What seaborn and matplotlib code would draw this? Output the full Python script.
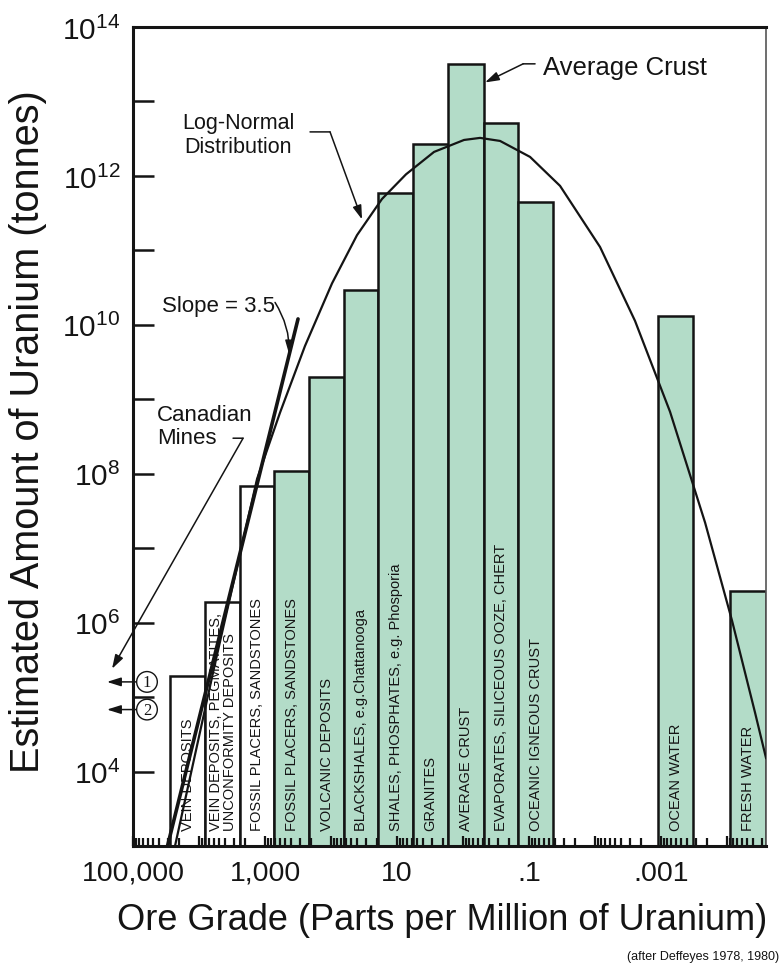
import matplotlib
matplotlib.use("Agg")
import matplotlib.pyplot as plt
import matplotlib.transforms as mtransforms
from matplotlib.ticker import FixedLocator, FixedFormatter, LogLocator, NullFormatter
import numpy as np
import seaborn as sns

# ---------------------------------------------------------------------------
# Uranium resources by deposit class (after Deffeyes 1978, 1980)
# each class covers an ore-grade range (ppm U, high edge -> low edge)
# ---------------------------------------------------------------------------
deposit_names = [
    "VEIN DEPOSITS",
    "VEIN DEPOSITS, PEGMATITES,\nUNCONFORMITY DEPOSITS",
    "FOSSIL PLACERS, SANDSTONES",
    "FOSSIL PLACERS, SANDSTONES",
    "VOLCANIC DEPOSITS",
    "BLACKSHALES, e.g.Chattanooga",
    "SHALES, PHOSPHATES, e.g. Phosporia",
    "GRANITES",
    "AVERAGE CRUST",
    "EVAPORATES, SILICEOUS OOZE, CHERT",
    "OCEANIC IGNEOUS CRUST",
    "OCEAN WATER",
    "FRESH WATER",
]
grade_high = [27500, 8100, 2390, 731, 215, 63.5, 19.4, 5.73, 1.69, 0.481, 0.147, 0.00111, 9.0e-5]
grade_low = [8100, 2390, 731, 215, 63.5, 19.4, 5.73, 1.69, 0.481, 0.147, 0.0433, 0.000327, 2.56e-5]
tonnes = [1.9e5, 1.9e6, 6.9e7, 1.1e8, 2.0e9, 2.9e10, 5.9e11, 2.7e12, 3.2e13, 5.1e12, 4.5e11, 1.3e10, 2.7e6]
shaded = [False, False, False, True, True, True, True, True, True, True, True, True, True]

# log-normal distribution curve (grade ppm, tonnes)
curve_grade = [23100, 5730, 1320, 593, 248, 96.6, 40.4, 16.9, 7.31, 2.75, 0.966,
               0.552, 0.275, 0.0966, 0.0339, 8.4e-3, 2.48e-3, 7.31e-4, 2.15e-4,
               8.4e-5, 3.77e-5, 2.56e-5]
curve_tonnes = [1.0e3, 2.8e5, 8.5e7, 6.6e8, 5.2e9, 3.6e10, 1.6e11, 4.9e11, 1.05e12,
                2.1e12, 3.04e12, 3.24e12, 2.95e12, 1.8e12, 7.35e11, 1.11e11, 1.13e10,
                6.8e8, 2.2e7, 1.06e6, 6.2e4, 1.5e4]

# slope = 3.5 trend through the high-grade deposits
slope_grade = [30000, 316]
slope_tonnes = [1.0e3, 1.2e10]

# Canadian mines (1 and 2)
canada_labels = ["1", "2"]
canada_tonnes = [1.6e5, 6.8e4]

# axis ticks
y_powers = list(range(4, 15))
x_powers = list(range(-4, 6))
x_label_values = [1e5, 1e3, 1e1, 1e-1, 1e-3]
x_label_text = ["100,000", "1,000", "10", ".1", ".001"]

GREEN = "#b3dcc8"
INK = "#141414"

sns.set_theme(style="ticks")
plt.rcParams["font.family"] = ["Liberation Sans", "DejaVu Sans"]
plt.rcParams["mathtext.fontset"] = "custom"
plt.rcParams["mathtext.rm"] = "Liberation Sans"
plt.rcParams["mathtext.it"] = "Liberation Sans:italic"
plt.rcParams["mathtext.bf"] = "Liberation Sans:bold"

W, H = 781, 970
fig = plt.figure(figsize=(W / 100, H / 100), dpi=100)
ax = fig.add_axes([133 / W, 1 - 847 / H, (766 - 133) / W, (847 - 28) / H])
ax.set_xscale("log")
ax.set_yscale("log")
ax.set_axisbelow(False)

# histogram bars
for hi, lo, t, filled in zip(grade_high, grade_low, tonnes, shaded):
    ax.bar(lo, t - 1.0, width=hi - lo, bottom=1.0, align="edge",
           color=GREEN if filled else "white", edgecolor=INK,
           linewidth=1.8, zorder=1.5)

# labels written up inside each bar
label_tf = mtransforms.blended_transform_factory(ax.transData, ax.transAxes)
for name, hi, lo in zip(deposit_names, grade_high, grade_low):
    ax.text(np.sqrt(hi * lo), 0.019, name, transform=label_tf, rotation=90,
            ha="center", va="bottom", multialignment="left",
            fontsize=10.5, linespacing=1.0, color=INK, zorder=5)

# log-normal curve and slope line
sns.lineplot(x=curve_grade, y=curve_tonnes, ax=ax, sort=False, color=INK,
             linewidth=1.6, zorder=4)
sns.lineplot(x=slope_grade, y=slope_tonnes, ax=ax, sort=False, color=INK,
             linewidth=2.6, zorder=4)

ax.set_xlim(1e5, 10 ** -4.59)
ax.set_ylim(1e3, 1e14)

# axes frame
for side in ["left", "bottom", "top"]:
    ax.spines[side].set_linewidth(2.2)
    ax.spines[side].set_color(INK)
ax.spines["right"].set_linewidth(1.2)
ax.spines["right"].set_color("#555555")
ax.set_facecolor("white")

# y ticks: every decade, labelled on even powers
ax.yaxis.set_major_locator(FixedLocator([10.0 ** k for k in y_powers]))
ax.yaxis.set_major_formatter(FixedFormatter(
    [rf"$\mathregular{{10^{{{k}}}}}$" if k % 2 == 0 else "" for k in y_powers]))
ax.yaxis.set_minor_locator(FixedLocator([]))
ax.tick_params(axis="y", which="major", direction="in", length=15, width=1.8,
               pad=9, labelsize=21.5, colors=INK)

# x ticks: every decade plus log minor ticks
ax.xaxis.set_major_locator(FixedLocator([10.0 ** k for k in x_powers]))
ax.xaxis.set_major_formatter(FixedFormatter(
    [x_label_text[x_label_values.index(10.0 ** k)] if 10.0 ** k in x_label_values else ""
     for k in x_powers]))
ax.xaxis.set_minor_locator(LogLocator(base=10, subs=np.arange(2, 10), numticks=30))
ax.xaxis.set_minor_formatter(NullFormatter())
ax.tick_params(axis="x", which="major", direction="in", length=7, width=1.6,
               pad=10, labelsize=20.5, colors=INK)
ax.tick_params(axis="x", which="minor", direction="in", length=5.5, width=1.6,
               colors=INK)

# annotations
head = "-|>,head_length=0.7,head_width=0.22"
arrow = dict(arrowstyle=head, color=INK, lw=1.1, shrinkA=0, shrinkB=0)
plain = dict(arrowstyle="-", color=INK, lw=1.1, shrinkA=0, shrinkB=0)

ax.text(0.0614, 2.9e13, "Average Crust", fontsize=18.5, ha="left", va="center", color=INK)
ax.annotate("", xy=(0.123, 3.2e13), xytext=(0.081, 3.2e13), arrowprops=plain)
ax.annotate("", xy=(0.464, 1.8e13), xytext=(0.123, 3.2e13), arrowprops=arrow)

ax.text(2570, 3.6e12, "Log-Normal\nDistribution", fontsize=15.5, ha="center",
        va="center", multialignment="center", linespacing=1.15, color=INK)
ax.annotate("", xy=(103.5, 3.9e12), xytext=(208, 3.9e12), arrowprops=plain)
ax.annotate("", xy=(33.9, 2.6e11), xytext=(103.5, 3.9e12), arrowprops=arrow)

ax.text(36400, 1.8e10, "Slope = 3.5", fontsize=16, ha="left", va="center", color=INK)
ax.annotate("", xy=(430, 4.0e9), xytext=(705, 2.0e10),
            arrowprops=dict(arrow, connectionstyle="arc3,rad=-0.15"))

ax.text(43300, 4.4e8, "Canadian\nMines", fontsize=16, ha="left", va="center",
        linespacing=1.15, color=INK)
ax.annotate("", xy=(2150, 3.0e8), xytext=(3050, 3.0e8), arrowprops=plain)
ax.annotate("", xy=(208000, 2.4e5), xytext=(2150, 3.0e8), arrowprops=arrow,
            annotation_clip=False)

for lab, t in zip(canada_labels, canada_tonnes):
    ax.annotate("", xy=(248000, t), xytext=(83000, t), arrowprops=arrow,
                annotation_clip=False)
    ax.text(61400, t, lab, ha="center", va="center", fontsize=12,
            family=["Liberation Serif", "DejaVu Serif"], color=INK, zorder=6,
            bbox=dict(boxstyle="circle,pad=0.14", fc="white", ec=INK, lw=1.0))

# axis titles
fig.text(28 / W, 1 - 432 / H, "Estimated Amount of Uranium (tonnes)", rotation=90,
         ha="center", va="center", fontsize=28.5, color=INK)
fig.text(442 / W, 1 - 921 / H, "Ore Grade (Parts per Million of Uranium)",
         ha="center", va="center", fontsize=26, color=INK)
fig.text(0.997, 1 - 957 / H, "(after Deffeyes 1978, 1980)", ha="right", va="center",
         fontsize=9, color=INK)

fig.savefig("out.png", dpi=100, facecolor="white")
